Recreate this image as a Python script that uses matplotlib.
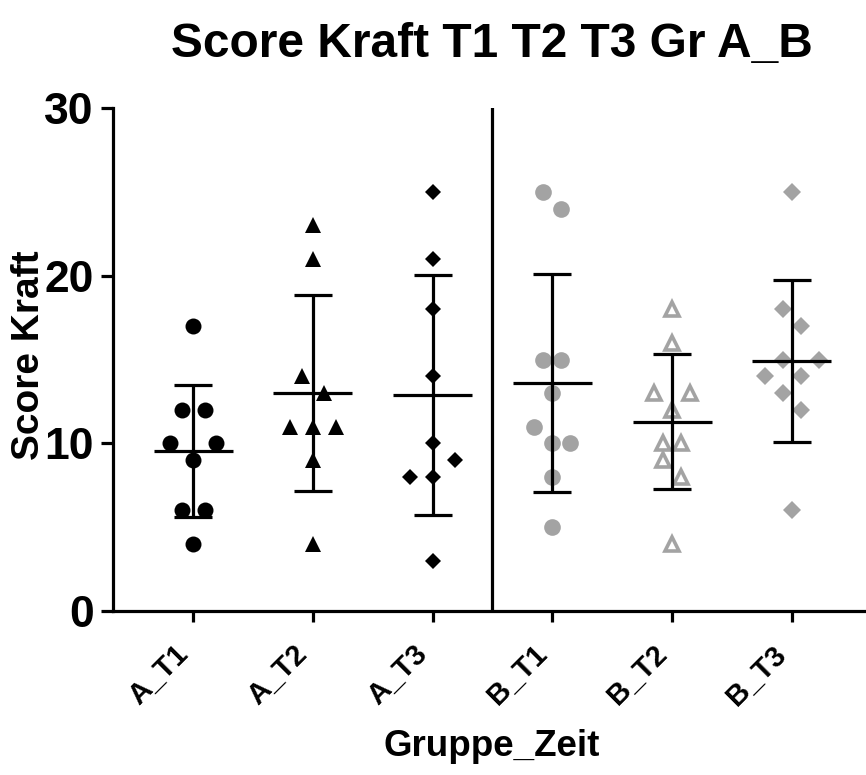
import numpy as np
import matplotlib
matplotlib.use("Agg")
import matplotlib.pyplot as plt
from matplotlib.transforms import ScaledTranslation

plt.rcParams['font.family'] = ['Liberation Sans', 'DejaVu Sans']
plt.rcParams['font.weight'] = 'bold'

# scores per group, listed top row first, left to right inside a row
groups = ['A_T1', 'A_T2', 'A_T3', 'B_T1', 'B_T2', 'B_T3']
a_t1 = [17, 12, 12, 10, 9, 10, 6, 6, 4]
a_t2 = [23, 21, 14, 13, 11, 11, 11, 9, 4]
a_t3 = [25, 21, 18, 14, 10, 8, 8, 9, 3]
b_t1 = [25, 24, 15, 15, 13, 11, 10, 10, 8, 5]
b_t2 = [18, 16, 13, 12, 13, 10, 10, 9, 8, 4]
b_t3 = [25, 18, 17, 14, 15, 14, 15, 13, 12, 6]
scores = [a_t1, a_t2, a_t3, b_t1, b_t2, b_t3]

grey = '#a3a3a3'
styles = [
    dict(marker='o', ms=11.5, mfc='black', mec='black', mew=0, gap=0.19),
    dict(marker='^', ms=11.5, mfc='black', mec='black', mew=0, gap=0.19),
    dict(marker='D', ms=8.5, mfc='black', mec='black', mew=0, gap=0.19),
    dict(marker='o', ms=12, mfc=grey, mec=grey, mew=0, gap=0.15),
    dict(marker='^', ms=10, mfc='white', mec=grey, mew=2.6, gap=0.15),
    dict(marker='D', ms=9, mfc=grey, mec=grey, mew=0, gap=0.15),
]


def row_offsets(vals, gap):
    # points within one unit of the lowest value of a row share that row
    # and are spread evenly around the group centre, in list order
    vals = np.asarray(vals, dtype=float)
    offs = np.zeros(len(vals))
    left = list(np.argsort(vals, kind='stable'))
    while left:
        lo = vals[left[0]]
        row = [i for i in left if vals[i] <= lo + 1]
        row.sort()
        n = len(row)
        for k, i in enumerate(row):
            offs[i] = (k - (n - 1) / 2) * gap
        left = [i for i in left if i not in row]
    return offs


fig = plt.figure(figsize=(8.66, 7.75), dpi=100)
ax = fig.add_axes([0.1305, 0.2116, 0.8695, 0.6490])

lw = 2.3
for x, (vals, st) in enumerate(zip(scores, styles)):
    st = dict(st)
    gap = st.pop('gap')
    offs = row_offsets(vals, gap)
    ax.plot(x + offs, vals, ls='none', zorder=3, clip_on=False, **st)
    m = np.mean(vals)
    sd = np.std(vals, ddof=1)
    ax.plot([x - 0.33, x + 0.33], [m, m], color='black', lw=lw, zorder=4,
            solid_capstyle='butt')
    ax.errorbar(x, m, yerr=sd, fmt='none', ecolor='black', elinewidth=lw,
                capsize=13.5, capthick=lw, zorder=4)

ax.axvline(2.5, color='black', lw=lw, zorder=2)

ax.set_xlim(-0.67, 5.62)
ax.set_ylim(0, 30)
ax.set_yticks([0, 10, 20, 30])
ax.set_xticks(range(len(groups)))
ax.set_xticklabels(groups, rotation=45, ha='right', va='top', fontsize=21,
                   fontweight='bold')
for lab in ax.get_xticklabels():
    lab.set_transform(lab.get_transform() +
                      ScaledTranslation(12 / 100, 0, fig.dpi_scale_trans))
ax.tick_params(axis='x', length=8, width=lw, pad=13)
ax.tick_params(axis='y', length=9, width=lw, pad=5, labelsize=32)
for lab in ax.get_yticklabels():
    lab.set_fontweight('bold')

for s in ['top', 'right']:
    ax.spines[s].set_visible(False)
for s in ['left', 'bottom']:
    ax.spines[s].set_linewidth(lw)

fig.text(0.568, 0.942, 'Score Kraft T1 T2 T3 Gr A_B', ha='center', va='center',
         fontsize=34.5, fontweight='bold')
fig.text(0.568, 0.037, 'Gruppe_Zeit', ha='center', va='center',
         fontsize=26.5, fontweight='bold')
fig.text(0.033, 0.542, 'Score Kraft', ha='center', va='center', rotation=90,
         fontsize=28, fontweight='bold')

fig.savefig('out.png', dpi=100)
